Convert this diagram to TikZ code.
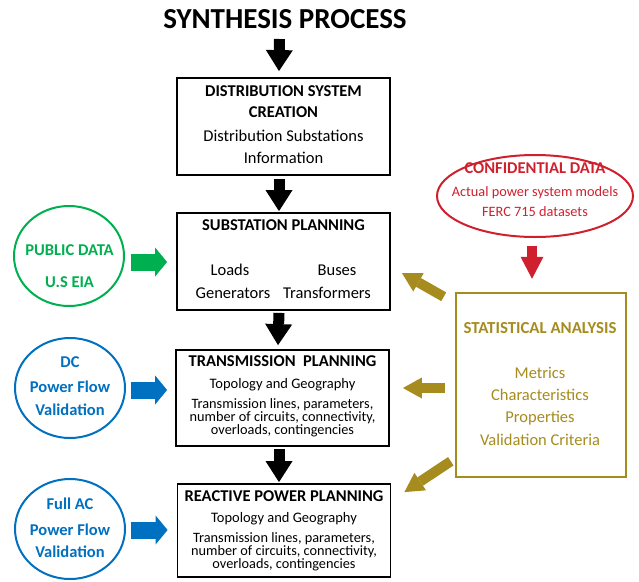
\documentclass[tikz,border=0pt]{standalone}
\usepackage{fontspec}
\setmainfont{Carlito}
\usetikzlibrary{arrows.meta,shapes.geometric}
\definecolor{pgreen}{HTML}{00B050}
\definecolor{pblue}{HTML}{0070C0}
\definecolor{pred}{HTML}{D0202E}
\definecolor{polive}{HTML}{A68C1E}
\tikzset{
  tx/.style={anchor=base, inner sep=0pt},
  fA/.style={font=\fontsize{16.5}{19}\selectfont},
  fAb/.style={font=\fontsize{16.5}{19}\selectfont\bfseries},
  fB/.style={font=\fontsize{14.5}{17}\selectfont},
  fC/.style={font=\fontsize{14.3}{16}\selectfont},
  procbox/.style={draw, line width=1.8pt, minimum width=213pt, inner sep=0pt},
  circ/.style={ellipse, line width=2pt, minimum width=110pt, minimum height=100pt, inner sep=0pt},
  blkarrow/.style={line width=11pt, -{Triangle[width=27pt,length=21pt,line width=0pt]}},
  sidearrow/.style={line width=17pt, -{Triangle[width=29pt,length=12pt,line width=0pt]}},
  olarrow/.style={polive, line width=10pt, -{Triangle[width=21pt,length=19pt,line width=0pt]}},
  redarrow/.style={pred, line width=10pt, -{Triangle[width=23pt,length=22pt,line width=0pt]}},
}
\begin{document}
\begin{tikzpicture}[x=1pt,y=-1pt]
\useasboundingbox[fill=white] (0,0) rectangle (639,581);

% title
\node[tx, font=\fontsize{29}{32}\selectfont\bfseries] (title) at (285,28) {SYNTHESIS PROCESS};

% boxes
\node[procbox, minimum height=97pt] (box1) at (283.5,126.5) {};
\node[procbox, minimum height=97pt] (box2) at (283.5,261.5) {};
\node[procbox, minimum height=96pt] (box3) at (282.5,398) {};
\node[procbox, minimum height=93pt] (box4) at (284,530.5) {};

% box1 text
\node[tx, fAb] (b1a) at (283.5,96) {DISTRIBUTION SYSTEM};
\node[tx, fAb] (b1b) at (283.5,117) {CREATION};
\node[tx, fA] (b1c) at (283.5,141) {Distribution Substations};
\node[tx, fA] (b1d) at (283.5,163) {Information};

% box2 text
\node[tx, fAb] (b2a) at (283.5,230) {SUBSTATION PLANNING};
\node[tx, fA] (b2b) at (230,275) {Loads};
\node[tx, fA] (b2c) at (337,275) {Buses};
\node[tx, fA] (b2d) at (233,298) {Generators};
\node[tx, fA] (b2e) at (327,298) {Transformers};

% box3 text
\node[tx, fAb] (b3a) at (282.5,366.5) {TRANSMISSION\ \ PLANNING};
\node[tx, fB] (b3b) at (282.5,388) {Topology and Geography};
\node[tx, fC] (b3c) at (282.5,408) {Transmission lines, parameters,};
\node[tx, fC] (b3d) at (282.5,421) {number of circuits, connectivity,};
\node[tx, fC] (b3e) at (282.5,434) {overloads, contingencies};

% box4 text
\node[tx, fAb] (b4a) at (284,501) {REACTIVE POWER PLANNING};
\node[tx, fB] (b4b) at (284,522.5) {Topology and Geography};
\node[tx, fC] (b4c) at (284,542) {Transmission lines, parameters,};
\node[tx, fC] (b4d) at (284,555) {number of circuits, connectivity,};
\node[tx, fC] (b4e) at (284,568) {overloads, contingencies};

% left circles
\node[circ, draw=pgreen] (pub) at (69,256) {};
\node[tx, fAb, text=pgreen] (puba) at (69.5,255) {PUBLIC DATA};
\node[tx, fAb, text=pgreen] (pubb) at (69.5,287) {U.S EIA};

\node[circ, draw=pblue] (dc) at (70,388) {};
\node[tx, fAb, text=pblue] (dca) at (70,367) {DC};
\node[tx, fAb, text=pblue] (dcb) at (70,392) {Power Flow};
\node[tx, fAb, text=pblue] (dcc) at (70,415) {Validation};

\node[circ, draw=pblue] (ac) at (70,529) {};
\node[tx, fAb, text=pblue] (aca) at (70,509) {Full AC};
\node[tx, fAb, text=pblue] (acb) at (70,535) {Power Flow};
\node[tx, fAb, text=pblue] (acc) at (70,557) {Validation};

% confidential ellipse
\node[ellipse, draw=pred, line width=2pt, minimum width=196pt, minimum height=82pt, inner sep=0pt] (conf) at (535,196) {};
\node[tx, fAb, text=pred] (confa) at (535,173) {CONFIDENTIAL DATA};
\node[tx, fC, text=pred] (confb) at (535,196) {Actual power system models};
\node[tx, fC, text=pred] (confc) at (535,216) {FERC 715 datasets};

% statistical analysis box
\node[draw=polive, line width=2.5pt, minimum width=170pt, minimum height=184pt, inner sep=0pt] (stat) at (541,385) {};
\node[tx, font=\fontsize{16.8}{19}\selectfont\bfseries, text=polive] (sta) at (540,333) {STATISTICAL ANALYSIS};
\node[tx, fA, text=polive] (stb) at (540,378) {Metrics};
\node[tx, fA, text=polive] (stc) at (540,400.5) {Characteristics};
\node[tx, fA, text=polive] (std) at (540,422.5) {Properties};
\node[tx, fA, text=polive] (ste) at (540,445) {Validation Criteria};

% black flow arrows
\draw[blkarrow] ([shift={(-5.5,11)}]title.base) -- ([shift={(-4.5,-6)}]box1.north);
\draw[blkarrow] ([shift={(-4.5,3)}]box1.south) -- ([shift={(-4.5,-1)}]box2.north);
\draw[blkarrow] ([shift={(-4.5,2)}]box2.south) -- ([shift={(-4.5,-4)}]box3.north);
\draw[blkarrow] ([shift={(-3.5,2)}]box3.south) -- ([shift={(-5,-1)}]box4.north);

% side arrows
\draw[sidearrow, pgreen] ([shift={(6,6)}]pub.east) -- ([shift={(-9,0.5)}]box2.west);
\draw[sidearrow, pblue] ([shift={(5,2)}]dc.east) -- ([shift={(-8,-8)}]box3.west);
\draw[sidearrow, pblue] ([shift={(5,1)}]ac.east) -- ([shift={(-9,-0.5)}]box4.west);

% red arrow
\draw[redarrow] ([shift={(-3,8)}]conf.south) -- ([shift={(-9,-13)}]stat.north);

% olive arrows
\draw[olarrow] ([shift={(-11,5)}]stat.north west) -- ([shift={(11,11.5)}]box2.east);
\draw[olarrow] ([shift={(-10,3)}]stat.west) -- ([shift={(13,-10)}]box3.east);
\draw[olarrow] ([shift={(-4,-17)}]stat.south west) -- ([shift={(13,9)}]box4.north east);
\end{tikzpicture}
\end{document}
